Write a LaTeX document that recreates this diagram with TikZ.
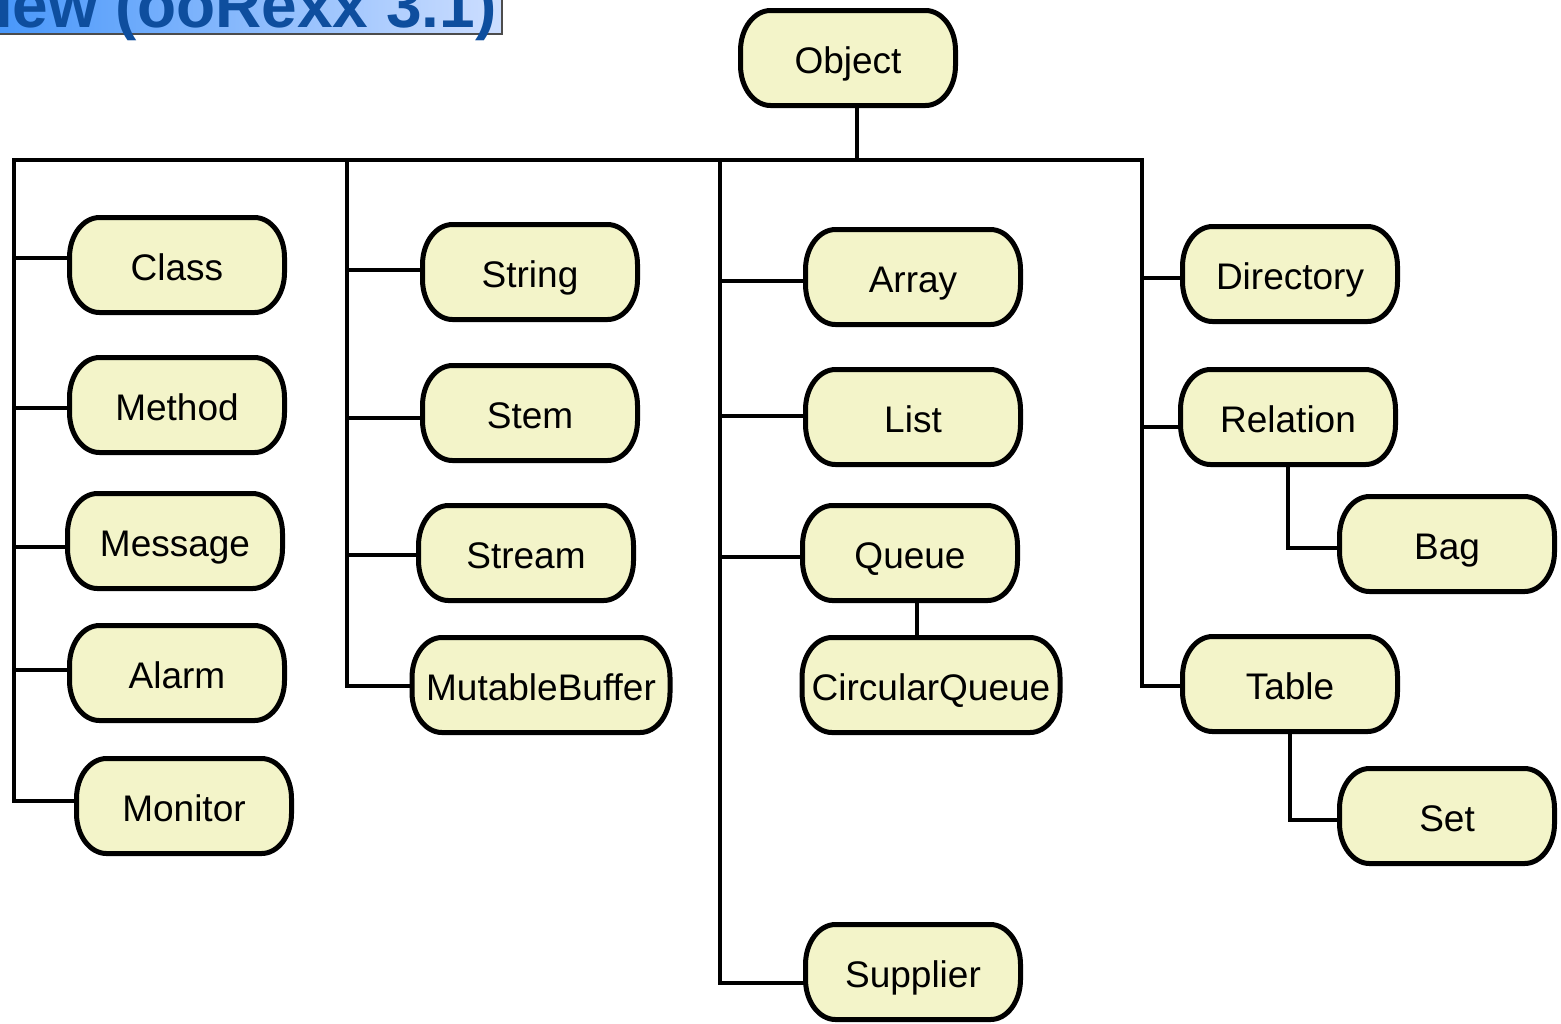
\documentclass[tikz,border=0pt]{standalone}
\usepackage{fontspec}
\setmainfont{Liberation Sans}
\definecolor{nodefill}{RGB}{243,244,201}
\definecolor{titleL}{RGB}{70,150,250}
\definecolor{titleR}{RGB}{205,222,255}
\definecolor{titletext}{RGB}{14,78,158}
\pgfdeclarelayer{background}
\pgfsetlayers{background,main}
\newcommand\drawcapsule[1]{%
  \draw[capsule] ([xshift=15pt]#1.north west) -- ([xshift=-15pt]#1.north east)
    arc[start angle=90,end angle=0,x radius=15pt,y radius=20pt]
    -- ([yshift=20pt]#1.south east)
    arc[start angle=0,end angle=-90,x radius=15pt,y radius=20pt]
    -- ([xshift=15pt]#1.south west)
    arc[start angle=270,end angle=180,x radius=15pt,y radius=20pt]
    -- ([yshift=-20pt]#1.north west)
    arc[start angle=180,end angle=90,x radius=15pt,y radius=20pt]
    -- cycle;}
\begin{document}
\begin{tikzpicture}[x=0.5pt,y=-0.5pt,
  cls/.style={draw=none, fill=none, minimum width=107.5pt, minimum height=47.5pt,
    inner sep=0pt, outer sep=0pt, text height=15.5pt, text depth=0pt,
    font=\fontsize{18.5pt}{20pt}\selectfont},
  wide/.style={minimum width=129pt},
  capsule/.style={draw=black, line width=2.5pt, fill=nodefill, line join=round},
  link/.style={line width=2pt, line cap=rect}]
\useasboundingbox (0,0) rectangle (1561,1023);
\clip (0,0) rectangle (1561,1023);
% title banner
\shade[left color=titleL, right color=titleR] (-10,-40) rectangle (502,34);
\draw[line width=1pt, draw=black!70] (-10,34) -- (502,34) -- (502,-40);
\node[anchor=base east, inner sep=0pt, text=titletext,
  font=\bfseries\fontsize{32pt}{34pt}\selectfont] (title) at (497,27) {iew (ooRexx 3.1)};
% nodes
\node[cls] (Object) at (848,58) {Object};
\node[cls] (Class) at (177,265) {Class};
\node[cls] (Method) at (177,405) {Method};
\node[cls] (Message) at (175,541) {Message};
\node[cls] (Alarm) at (177,673) {Alarm};
\node[cls] (Monitor) at (184,806) {Monitor};
\node[cls] (String) at (530,272) {String};
\node[cls] (Stem) at (530,413) {Stem};
\node[cls] (Stream) at (526,553) {Stream};
\node[cls,wide] (MutableBuffer) at (541,685) {MutableBuffer};
\node[cls] (Array) at (913,277) {Array};
\node[cls] (List) at (913,417) {List};
\node[cls] (Queue) at (910,553) {Queue};
\node[cls,wide] (CircularQueue) at (931,685) {CircularQueue};
\node[cls] (Supplier) at (913,972) {Supplier};
\node[cls] (Directory) at (1290,274) {Directory};
\node[cls] (Relation) at (1288,417) {Relation};
\node[cls] (Bag) at (1447,544) {Bag};
\node[cls] (Table) at (1290,684) {Table};
\node[cls] (Set) at (1447,816) {Set};
\begin{pgfonlayer}{background}
% bus coordinates
\coordinate (objdown) at (857,160);
\coordinate (busL) at (14,160);
\coordinate (busR) at (1142,160);
\coordinate (v1) at (14,801);
\coordinate (v2t) at (347,160);
\coordinate (v2) at (347,686);
\coordinate (v3t) at (720,160);
\coordinate (v3) at (720,983);
\coordinate (v4) at (1142,686);
% main bus
\draw[link] (Object.south -| objdown) -- (objdown);
\draw[link] (busL) -- (busR);
\draw[link] (busL) -- (v1);
\draw[link] (v2t) -- (v2);
\draw[link] (v3t) -- (v3);
\draw[link] (busR) -- (v4);
% branches column 1
\coordinate (b1) at (14,258); \draw[link] (b1) -- (b1 -| Class.west);
\coordinate (b2) at (14,408); \draw[link] (b2) -- (b2 -| Method.west);
\coordinate (b3) at (14,547); \draw[link] (b3) -- (b3 -| Message.west);
\coordinate (b4) at (14,670); \draw[link] (b4) -- (b4 -| Alarm.west);
\draw[link] (v1) -- (v1 -| Monitor.west);
% column 2
\coordinate (c1) at (347,270); \draw[link] (c1) -- (c1 -| String.west);
\coordinate (c2) at (347,418); \draw[link] (c2) -- (c2 -| Stem.west);
\coordinate (c3) at (347,555); \draw[link] (c3) -- (c3 -| Stream.west);
\draw[link] (v2) -- (v2 -| MutableBuffer.west);
% column 3
\coordinate (d1) at (720,281); \draw[link] (d1) -- (d1 -| Array.west);
\coordinate (d2) at (720,416); \draw[link] (d2) -- (d2 -| List.west);
\coordinate (d3) at (720,557); \draw[link] (d3) -- (d3 -| Queue.west);
\draw[link] (v3) -- (v3 -| Supplier.west);
\coordinate (qc) at (917,600);
\draw[link] (Queue.south -| qc) -- (CircularQueue.north -| qc);
% column 4
\coordinate (e1) at (1142,278); \draw[link] (e1) -- (e1 -| Directory.west);
\coordinate (e2) at (1142,427); \draw[link] (e2) -- (e2 -| Relation.west);
\draw[link] (v4) -- (v4 -| Table.west);
\coordinate (rb) at (1288,548);
\draw[link] (Relation.south) -- (rb) -- (rb -| Bag.west);
\coordinate (ts) at (1290,820);
\draw[link] (Table.south) -- (ts) -- (ts -| Set.west);
% capsule outlines
\foreach \n in {Object,Class,Method,Message,Alarm,Monitor,String,Stem,Stream,
  MutableBuffer,Array,List,Queue,CircularQueue,Supplier,Directory,Relation,Bag,Table,Set}
  {\drawcapsule{\n}}
\end{pgfonlayer}
\end{tikzpicture}
\end{document}
